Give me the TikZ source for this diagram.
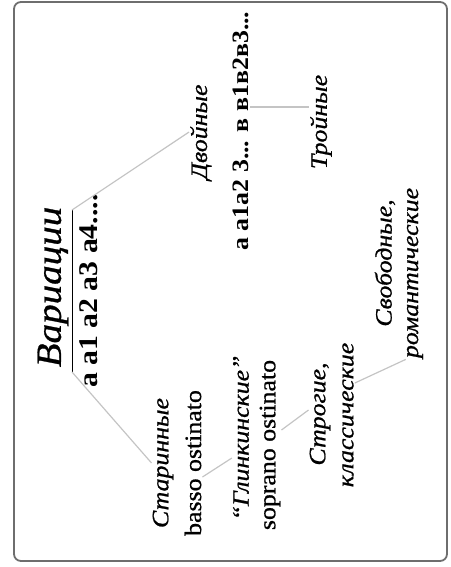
\documentclass[tikz,border=0pt]{standalone}
\usepackage{fontspec}
\setmainfont{Liberation Serif}[UprightFeatures={FakeBold=0.8},ItalicFeatures={FakeBold=0.8}]
\usepackage{xcolor}
\definecolor{framegray}{HTML}{6E6E6E}
\definecolor{linkgray}{HTML}{C4C4C4}

\begin{document}
\begin{tikzpicture}[x=1pt,y=-1pt,
    lbl/.style={rotate=90,xscale=1.1,inner sep=1pt,font=\fontsize{23.5}{28}\selectfont\itshape},
    code/.style={rotate=90,xscale=1.1,inner sep=1pt,font=\fontsize{23.5}{28}\selectfont\bfseries},
    latin/.style={rotate=90,xscale=1.1,inner sep=1pt,font=\fontsize{23.5}{28}\selectfont},
    link/.style={draw=linkgray,line width=1.2pt}]
    \useasboundingbox (0,0) rectangle (450,567);
    \draw[framegray,line width=1.8pt,rounded corners=7pt] (14,2) rectangle (447,561);

    \node[lbl,font=\fontsize{35.5}{40}\selectfont\itshape] (var) at (53,287) {Вариации};
    \coordinate (ul1) at (72,210);
    \coordinate (ul2) at (72,372);
    \draw[black,line width=0.8pt] (ul1) -- (ul2);
    \node[code,font=\fontsize{27}{32}\selectfont\bfseries] (row1) at (89,291) {а а1 а2 а3 а4....};

    \node[lbl] (dvo) at (201,132) {Двойные};
    \node[code] (row2) at (241,131) {а а1а2 3... в в1в2в3...};
    \node[lbl] (troj) at (321,122) {Тройные};

    \node[lbl] (star) at (163,463) {Старинные};
    \node[latin] (basso) at (193,463) {basso ostinato};
    \node[lbl] (glink) at (241,438) {“Глинкинские”};
    \node[latin] (sopr) at (270,445) {soprano ostinato};
    \node[lbl] (strog) at (320,414) {Строгие,};
    \node[lbl] (klass) at (348,415) {классические};
    \node[lbl] (svob) at (385,263) {Свободные,};
    \node[lbl] (romant) at (415,273) {романтические};

    \coordinate (tl) at ([yshift=24pt]row2.south);
    \draw[link] (ul1) -- (dvo.north);
    \draw[link] (ul2) -- (star.north);
    \draw[link] (tl) -- (tl -| troj.north);
    \draw[link] ([yshift=-14pt]basso.south) -- ([yshift=-20pt]glink.north);
    \draw[link] ([yshift=15pt]sopr.south) -- ([yshift=4pt]strog.north);
    \draw[link] ([yshift=32pt]klass.south) -- (romant.north west);
\end{tikzpicture}
\end{document}
